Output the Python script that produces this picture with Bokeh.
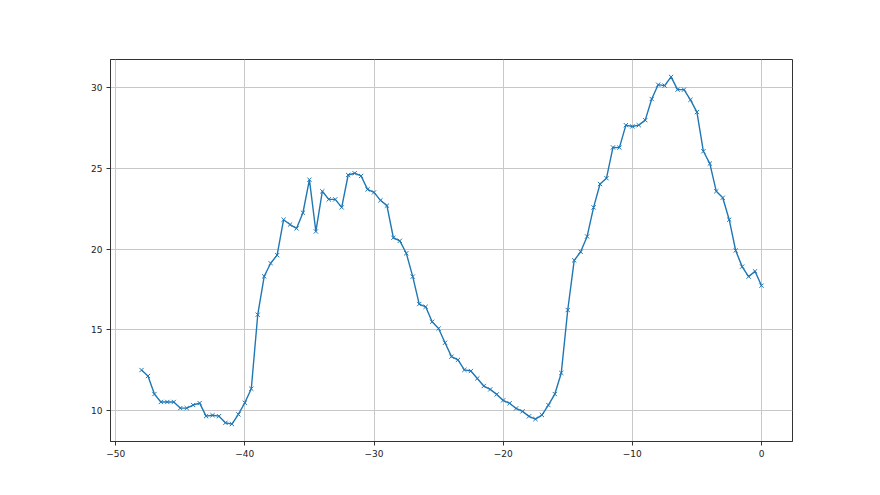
from bokeh.plotting import figure
from bokeh.embed import file_html
from bokeh.resources import INLINE
from bokeh.models import Range1d, FixedTicker, CustomJSTickFormatter

x_vals = [-48.0, -47.5, -47.0, -46.5, -46.0, -45.5, -45.0, -44.5, -44.0, -43.5,
          -43.0, -42.5, -42.0, -41.5, -41.0, -40.5, -40.0, -39.5, -39.0, -38.5,
          -38.0, -37.5, -37.0, -36.5, -36.0, -35.5, -35.0, -34.5, -34.0, -33.5,
          -33.0, -32.5, -32.0, -31.5, -31.0, -30.5, -30.0, -29.5, -29.0, -28.5,
          -28.0, -27.5, -27.0, -26.5, -26.0, -25.5, -25.0, -24.5, -24.0, -23.5,
          -23.0, -22.5, -22.0, -21.5, -21.0, -20.5, -20.0, -19.5, -19.0, -18.5,
          -18.0, -17.5, -17.0, -16.5, -16.0, -15.5, -15.0, -14.5, -14.0, -13.5,
          -13.0, -12.5, -12.0, -11.5, -11.0, -10.5, -10.0, -9.5, -9.0, -8.5,
          -8.0, -7.5, -7.0, -6.5, -6.0, -5.5, -5.0, -4.5, -4.0, -3.5,
          -3.0, -2.5, -2.0, -1.5, -1.0, -0.5, 0.0]

y_vals = [12.50, 12.13, 11.01, 10.52, 10.52, 10.52, 10.14, 10.14, 10.33, 10.45,
          9.64, 9.70, 9.64, 9.23, 9.15, 9.75, 10.47, 11.34, 15.93, 18.31,
          19.12, 19.62, 21.82, 21.52, 21.28, 22.25, 24.30, 21.09, 23.58, 23.08,
          23.08, 22.58, 24.59, 24.70, 24.53, 23.70, 23.51, 23.02, 22.69, 20.70,
          20.51, 19.74, 18.29, 16.59, 16.42, 15.49, 15.07, 14.19, 13.33, 13.13,
          12.51, 12.44, 11.98, 11.51, 11.30, 10.99, 10.62, 10.44, 10.12, 9.94,
          9.63, 9.46, 9.71, 10.33, 11.01, 12.32, 16.22, 19.30, 19.83, 20.78,
          22.58, 24.03, 24.39, 26.30, 26.29, 27.68, 27.60, 27.68, 27.99, 29.30,
          30.19, 30.13, 30.67, 29.88, 29.88, 29.25, 28.49, 26.06, 25.30, 23.58,
          23.18, 21.82, 19.91, 18.91, 18.29, 18.62, 17.73]

x_ticks = [-50, -40, -30, -20, -10, 0]
y_ticks = [10, 15, 20, 25, 30]

color = "#1f77b4"

p = figure(width=880, height=495, output_backend="svg", toolbar_location=None,
           x_range=Range1d(-50.4, 2.4), y_range=Range1d(8.07, 31.75),
           min_border_left=110, min_border_right=88, min_border_top=59,
           min_border_bottom=54)

p.line(x_vals, y_vals, line_color=color, line_width=1.4)
p.scatter(x_vals, y_vals, marker="x", size=6, line_color=color, line_width=1)

fmt = CustomJSTickFormatter(code="return tick.toString().replace('-', '\u2212');")
for ax, ticks in ((p.xaxis, x_ticks), (p.yaxis, y_ticks)):
    ax.ticker = FixedTicker(ticks=ticks)
    ax.formatter = fmt
    ax.major_label_text_font = "DejaVu Sans"
    ax.major_label_text_font_size = "9px"
    ax.major_label_text_color = "#222222"
    ax.major_tick_out = 4
    ax.major_tick_in = 0
    ax.minor_tick_out = 0
    ax.minor_tick_in = 0
    ax.axis_line_color = "#333333"
    ax.major_tick_line_color = "#333333"
    ax.major_label_standoff = 4

p.xgrid.ticker = FixedTicker(ticks=x_ticks)
p.ygrid.ticker = FixedTicker(ticks=y_ticks)
p.grid.grid_line_color = "#c8c8c8"
p.grid.grid_line_width = 1
p.outline_line_color = "#333333"
p.outline_line_width = 1
p.outline_line_alpha = 1

open("out.html", "w").write(file_html(p, INLINE))
